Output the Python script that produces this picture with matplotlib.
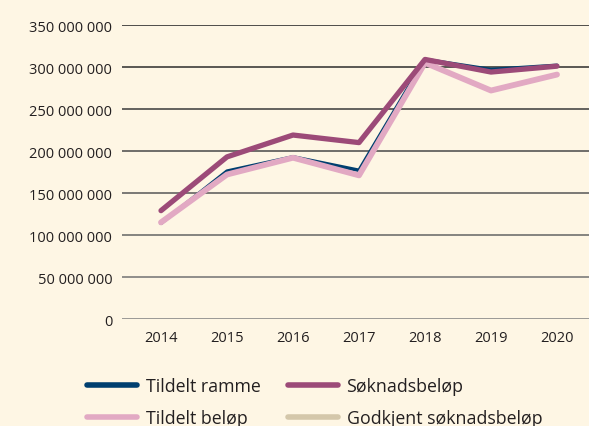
import matplotlib.pyplot as plt
import numpy as np

# data
years = [2014, 2015, 2016, 2017, 2018, 2019, 2020]
tildelt_ramme = [114e6, 176e6, 193e6, 177e6, 309e6, 297e6, 302e6]
soknadsbelop = [129e6, 193e6, 219e6, 210e6, 309e6, 294e6, 301e6]
tildelt_belop = [115e6, 172e6, 192e6, 171e6, 305e6, 272e6, 291e6]
godkjent = [np.nan] * 7  # not visible in the chart
yticks = [0, 50e6, 100e6, 150e6, 200e6, 250e6, 300e6, 350e6]

bg = "#fef6e4"
plt.rcParams['font.family'] = ['Open Sans', 'DejaVu Sans']

fig = plt.figure(figsize=(5.89, 4.27), dpi=100, facecolor=bg)
ax = fig.add_axes([122 / 589, 1 - 320 / 427, 1 - 122 / 589, (320 - 26) / 427])
ax.set_facecolor(bg)

l1, = ax.plot(years, tildelt_ramme, color="#003f6f", lw=2.6, solid_capstyle="round", label="Tildelt ramme", zorder=3)
l4, = ax.plot(years, godkjent, color="#d4c7aa", lw=4, solid_capstyle="round", label="Godkjent søknadsbeløp", zorder=2)
l3, = ax.plot(years, tildelt_belop, color="#e2a9c3", lw=4.2, solid_capstyle="round", label="Tildelt beløp", zorder=4)
l2, = ax.plot(years, soknadsbelop, color="#9c4a78", lw=3.8, solid_capstyle="round", label="Søknadsbeløp", zorder=5)

ax.set_xlim(2014 - 39 / 66, 2020 + 32 / 66)
ax.set_ylim(0, 350e6)
ax.set_yticks(yticks)
ax.set_yticklabels(["{:,}".format(int(v)).replace(",", " ") for v in yticks])
ax.set_xticks(years)
ax.tick_params(length=0, labelsize=10.5, colors="#231f20")
ax.tick_params(axis="y", pad=7)
ax.tick_params(axis="x", pad=8)

ax.grid(axis="y", lw=1.1, zorder=1)
ax.grid(axis="x", visible=False)
greys = np.linspace(0.5, 0.12, len(yticks))
for g, gl in zip(greys, ax.get_ygridlines()):
    gl.set_color((g, g, g))
for s in ax.spines.values():
    s.set_visible(False)
ax.set_axisbelow(True)

leg = fig.legend(handles=[l1, l3, l2, l4], ncol=2, loc="upper left",
                 bbox_to_anchor=(78 / 589, 1 - 369 / 427), frameon=False,
                 fontsize=12.8, handlelength=2.8, handletextpad=0.5,
                 columnspacing=1.55, labelspacing=0.78, borderpad=0,
                 labelcolor="#231f20")
for h in leg.get_lines():
    h.set_linewidth(4)

fig.savefig("out.png", dpi=100, facecolor=bg)
